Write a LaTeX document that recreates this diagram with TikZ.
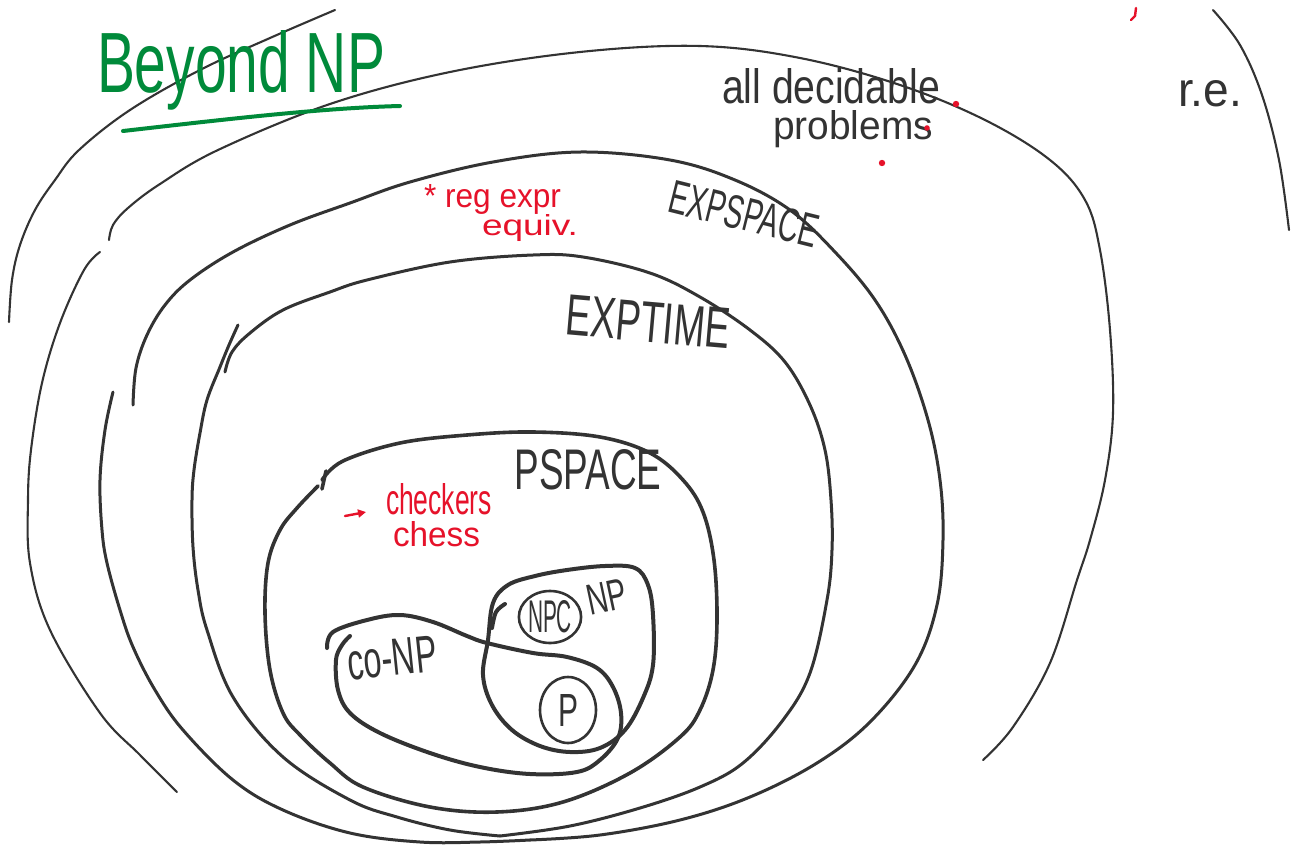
\documentclass[tikz,border=0pt]{standalone}
\usepackage{fontspec}
\setmainfont{Liberation Sans}
\usetikzlibrary{shapes.geometric,arrows.meta}
\definecolor{ink}{RGB}{51,51,51}
\definecolor{redink}{RGB}{230,18,42}
\definecolor{greenink}{RGB}{0,138,58}
\newcommand{\handtext}[3]{\resizebox{#1pt}{#2pt}{#3}}
\begin{document}
\begin{tikzpicture}[x=1pt,y=-1pt,
  thinline/.style={draw=ink,line width=2.1pt,line cap=round,line join=round},
  midline/.style={draw=ink,line width=3.0pt,line cap=round,line join=round},
  thickline/.style={draw=ink,line width=3.6pt,line cap=round,line join=round},
  heavyline/.style={draw=ink,line width=4.0pt,line cap=round,line join=round},
  lbl/.style={inner sep=0pt,outer sep=0pt,text=ink},
  redlbl/.style={inner sep=0pt,outer sep=0pt,text=redink},
  ring/.style={draw=ink,line width=2.6pt,ellipse,inner sep=0pt,text=ink}]
\fill[white] (0,0) rectangle (1307,846);
\useasboundingbox (0,0) rectangle (1307,846);

% r.e. (outer) arcs
\draw[thinline] plot[smooth,tension=0.6] coordinates {(9,322) (12,280) (20,245) (35,210) (55,180) (79,150) (130,110) (200,70) (270,38) (335,10)};
\draw[thinline] plot[smooth,tension=0.6] coordinates {(1213,10) (1240,45) (1262,95) (1279,160) (1289,230)};

% all decidable problems
\draw[thinline] plot[smooth,tension=0.6] coordinates {(109,240) (113,225) (128,208) (160,184) (218,150) (330,104) (450,72) (580,52) (700,46) (800,58) (900,85) (985,120) (1050,160) (1085,200) (1100,250) (1110,330) (1113,413) (1105,480) (1090,540) (1077,580) (1050,663) (1013,727) (983,760)};
\draw[thinline] plot[smooth,tension=0.6] coordinates {(100,252) (84,270) (60,323) (42,383) (31,450) (28,500) (30,563) (50,630) (100,713) (140,755) (177,792)};

% EXPSPACE
\draw[midline] plot[smooth,tension=0.6] coordinates {(133,405) (136,368) (147,335) (165,305) (190,280) (233,252) (290,225) (350,203) (410,182) (493,162) (580,152) (670,160) (735,180) (790,210) (835,252) (875,300) (905,355) (928,420) (940,480) (943,540) (937,605) (915,665) (870,722) (817,763) (750,797) (680,820) (600,835) (530,840)};
\draw[midline] plot[smooth,tension=0.6] coordinates {(113,392) (105,430) (100,480) (102,530) (107,563) (120,610) (133,647) (155,690) (183,730) (233,780) (283,810) (350,833) (420,842) (480,842) (530,840)};

% EXPTIME
\draw[midline] plot[smooth,tension=0.6] coordinates {(225,372) (232,352) (250,333) (283,310) (330,292) (367,280) (450,262) (533,255) (583,257) (650,273) (700,297) (750,330) (785,362) (810,405) (825,450) (831,500) (832,550) (827,600) (810,673) (783,720) (743,763) (700,787) (640,808) (570,826) (500,836)};
\draw[midline] plot[smooth,tension=0.6] coordinates {(238,325) (229,345) (220,367) (207,400) (200,433) (194,470) (192,500) (193,547) (198,590) (207,630) (233,697) (283,757) (350,800) (397,817) (450,830) (500,836)};

% PSPACE
\draw[thickline] plot[smooth,tension=0.6] coordinates {(322,480) (343,461) (400,443) (467,435) (533,432) (600,437) (650,453) (683,480) (703,512) (714,560) (717,620) (713,670) (700,710) (680,737) (630,773) (563,802) (497,812) (430,807) (363,787) (330,763) (300,735) (283,713) (270,670) (265,613) (268,563) (280,530) (297,508) (318,486)};
\draw[thickline] (326,471) -- (322,489);

% NP
\draw[heavyline] plot[smooth cycle,tension=0.6] coordinates {(488,640) (493,603) (508,585) (535,576) (567,570) (605,566) (635,568) (648,585) (653,615) (653,665) (643,698) (625,730) (600,748) (570,752) (540,746) (512,730) (492,705) (483,675)};
\draw[heavyline] plot[smooth,tension=0.6] coordinates {(505,604) (496,612) (492,628)};

% co-NP
\draw[heavyline] plot[smooth,tension=0.6] coordinates {(327,648) (333,632) (367,620) (400,615) (433,622) (467,636) (487,643) (533,653) (567,657) (597,668) (613,687) (621,713) (618,738) (600,760) (577,772) (530,774) (480,767) (430,753) (380,733) (350,713) (338,690) (336,660) (342,645) (350,636)};

% inner circles
\node[ring,minimum width=60pt,minimum height=52pt] (npc) at (550,617) {\handtext{44}{32}{NPC}};
\node[ring,minimum width=56pt,minimum height=66pt] (pclass) at (568,710) {\handtext{20}{32}{P}};

% labels
\node[lbl,anchor=base west,text=greenink] (beyond) at (97,92) {\handtext{288}{62}{Beyond NP}};
\draw[greenink,line width=4pt,line cap=round] (123,131) .. controls (220,120) and (320,108) .. (400,106);
\node[lbl,anchor=base west] (alldec) at (722,103) {\handtext{218}{35}{all decidable}};
\node[lbl,anchor=base west] (problems) at (773,139) {\handtext{160}{29}{problems}};
\node[lbl,anchor=base west] (re) at (1178,106) {\handtext{64}{26}{r.e.}};
\node[redlbl,anchor=base west] (regexpr) at (424,207) {\handtext{137}{23}{* reg expr}};
\node[redlbl,anchor=base west] (equiv) at (482,235) {\handtext{96}{21}{equiv.}};
\node[lbl,rotate=-14] (expspace) at (744,214) {\handtext{152}{33}{EXPSPACE}};
\node[lbl,rotate=-5] (exptime) at (648,322) {\handtext{165}{40}{EXPTIME}};
\node[lbl] (pspace) at (588,470) {\handtext{147}{40}{PSPACE}};
\node[redlbl,anchor=base west] (checkers) at (386,514) {\handtext{106}{31}{checkers}};
\node[redlbl,anchor=base west] (chess) at (393,546) {\handtext{87}{25}{chess}};
\node[lbl,rotate=6] (conp) at (392,658) {\handtext{90}{36}{co-NP}};
\node[lbl,rotate=12] (np) at (607,597) {\handtext{40}{30}{NP}};

% red marks
\draw[redink,line width=2.4pt,line cap=round,-{Triangle[length=8pt,width=8pt]}] (345,516) -- (366,512);
\fill[redink] (956,104) circle[radius=3.2pt];
\fill[redink] (882,163) circle[radius=3.2pt];
\fill[redink] (927,128) circle[radius=2.8pt];
\draw[redink,line width=2.4pt,line cap=round] (1136,8) -- (1135,16) -- (1131,20);
\end{tikzpicture}
\end{document}
